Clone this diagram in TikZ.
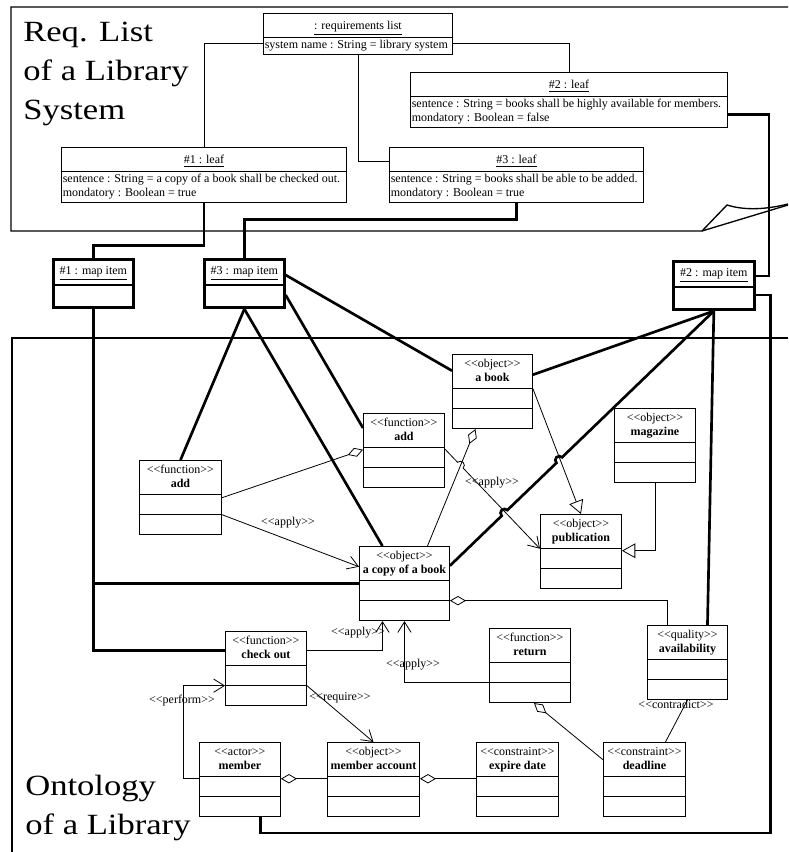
\documentclass[tikz,border=0pt]{standalone}
\usepackage{fontspec}
\setmainfont{Liberation Serif}[Ligatures=TeXOff]
\newfontfamily\titlefont{Liberation Serif}[FakeStretch=1.18,Ligatures=TeXOff]
\usepackage{tikz}
\usetikzlibrary{shapes.multipart,arrows.meta,calc}
\newcommand\leafstrut{\rule[-4.5pt]{0pt}{15.75pt}}
\tikzset{
	every node/.style={font=\fontsize{9}{10.5}\selectfont},
	frame/.style={line width=1pt},
	title/.style={font=\titlefont\fontsize{22}{29}\selectfont,align=left,inner sep=0pt,anchor=north west},
	leafbox/.style={draw,line width=0.7pt,rectangle split,rectangle split parts=2,rectangle split part align={center,left},align=left,inner xsep=1pt,inner ysep=0.75pt,anchor=north west},
	mapbox/.style={draw,line width=2pt,rectangle split,rectangle split parts=2,rectangle split empty part height=9pt,inner xsep=1pt,inner ysep=3pt,minimum width=60pt,anchor=north west},
	conbox/.style={draw,line width=0.7pt,rectangle split,rectangle split parts=3,rectangle split empty part height=10.25pt,align=center,inner xsep=1pt,inner ysep=2pt,anchor=north west},
	thinline/.style={line width=0.6pt},
	thickline/.style={line width=2pt},
	agg/.style={thinline,{Diamond[open,length=12pt,width=7pt]}-},
	dep/.style={thinline,-{Straight Barb[length=8pt,width=10pt]}},
	gen/.style={thinline,-{Triangle[open,length=10pt,width=11pt]}},
	lbl/.style={inner sep=0pt}
}
\begin{document}
\begin{tikzpicture}[x=0.75pt,y=-0.75pt]
\useasboundingbox (0,0) rectangle (788,852);

\draw[frame] (788,7) -- (11,7) -- (11,231) -- (702,231) -- (727,205) .. controls (746,211) and (768,209) .. (788,204);
\draw[frame] (702,231) -- (788,205);
\draw[frame] (788,338) -- (12,338) -- (12,852);
\node[title] (reqtitle) at (23,22) {Req. List\\of a Library\\System};
\node[title] (ontotitle) at (25,775) {Ontology\\of a Library};

\node[leafbox,minimum width=141.75pt] (req) at (263,13) {\leafstrut\underline{: requirements list}\nodepart{two}\strut system name : String = library system};
\node[leafbox,minimum width=213.75pt] (leaf1) at (61,147) {\leafstrut\underline{\#1 : leaf}\nodepart{two}\strut sentence : String = a copy of a book shall be checked out.\\\strut mondatory : Boolean = true};
\node[leafbox,minimum width=237.75pt] (leaf2) at (410,72) {\leafstrut\underline{\#2 : leaf}\nodepart{two}\strut sentence : String = books shall be highly available for members.\\\strut mondatory : Boolean = false};
\node[leafbox,minimum width=190.5pt] (leaf3) at (389,147) {\leafstrut\underline{\#3 : leaf}\nodepart{two}\strut sentence : String = books shall be able to be added.\\\strut mondatory : Boolean = true};

\node[mapbox] (map1) at (52,258) {\strut\underline{\#1 : map item}};
\node[mapbox] (map3) at (203,258) {\strut\underline{\#3 : map item}};
\node[mapbox,minimum width=60.75pt] (map2) at (672,260) {\strut\underline{\#2 : map item}};

\node[conbox,minimum width=60pt] (abook) at (452,354) {\strut<<object>>\\\textbf{a book}\strut};
\node[conbox,minimum width=60.75pt] (addr) at (363,413) {\strut<<function>>\\\textbf{add}\strut};
\node[conbox,minimum width=61.5pt] (addl) at (139,460) {\strut<<function>>\\\textbf{add}\strut};
\node[conbox,minimum width=60.75pt] (magazine) at (614,408) {\strut<<object>>\\\textbf{magazine}\strut};
\node[conbox,minimum width=60.75pt] (publication) at (540,514) {\strut<<object>>\\\textbf{publication}\strut};
\node[conbox,minimum width=67.5pt] (copy) at (359,546) {\strut<<object>>\\\textbf{a copy of a book}\strut};
\node[conbox,minimum width=60.75pt] (checkout) at (225,631) {\strut<<function>>\\\textbf{check out}\strut};
\node[conbox,minimum width=60.75pt] (return) at (489,628) {\strut<<function>>\\\textbf{return}\strut};
\node[conbox,minimum width=60pt] (availability) at (647,625) {\strut<<quality>>\\\textbf{availability}\strut};
\node[conbox,minimum width=60.75pt] (member) at (199,742) {\strut<<actor>>\\\textbf{member}\strut};
\node[conbox,minimum width=69pt] (account) at (327,742) {\strut<<object>>\\\textbf{member account}\strut};
\node[conbox,minimum width=61.5pt] (expire) at (476,742) {\strut<<constraint>>\\\textbf{expire date}\strut};
\node[conbox,minimum width=61.5pt] (deadline) at (603,742) {\strut<<constraint>>\\\textbf{deadline}\strut};

\node[lbl] (apply1) at (288,523) {<<apply>>};
\node[lbl] (apply2) at (492,483) {<<apply>>};
\node[lbl] (apply3) at (358,633) {<<apply>>};
\node[lbl] (apply4) at (413,665) {<<apply>>};
\node[lbl] (require) at (340,698) {<<require>>};
\node[lbl] (perform) at (182,701) {<<perform>>};
\node[lbl] (contradict) at (676,704) {<<contradict>>};

\draw[thinline] ([yshift=-4.5pt]req.one split west) -| (leaf1.north);
\draw[thinline] ([yshift=-4.5pt]req.one split east) -| (leaf2.north);
\draw[thinline] (req.south) |- ([yshift=7.5pt]leaf3.one split west);

\draw[thickline] (leaf1.south) -- ++(0,43) -| (map1.north);
\draw[thickline] (leaf3.south) -- ++(0,17) -| (map3.north);
\draw[thickline] ([yshift=-13.5pt]leaf2.one split east) -- ++(41,0) |- ([yshift=8.25pt]map2.one split east);
\draw[thickline] ([yshift=-6pt]map2.one split east) -- ++(15,0) -- ++(0,538) -| ([xshift=15.4pt]member.south);

\coordinate (copyw) at ([yshift=-2.25pt]copy.one split west);
\coordinate (copye) at ([yshift=11.25pt]copy.one split east);
\draw[thickline] (map1.south) |- ([yshift=11.25pt]checkout.one split west);
\draw[thickline] (map1.south |- copyw) -- (copyw);
\draw[thickline] (map3.south) -- (addl.north);
\draw[thickline] (map3.south) -- ([xshift=-16.5pt]copy.north);
\draw[thickline] ([yshift=-7.5pt]map3.one split east) -- ([yshift=-11.25pt]addr.north west);
\draw[thickline] ([yshift=7.5pt]map3.one split east) -- ([yshift=13.5pt]abook.one split west);
\draw[thickline] (map2.south) -- ([yshift=10.5pt]abook.one split east);
\draw[thickline] (copye) -- ($(copye)!0.207!(map2.south)!3pt!(copye)$) arc[start angle=225,end angle=45,radius=3pt] -- ($(copye)!0.4145!(map2.south)!3pt!(copye)$) arc[start angle=225,end angle=45,radius=3pt] -- (map2.south);
\draw[thickline] (map2.south) -- ([xshift=15pt]availability.north);

\coordinate (addre) at ([yshift=-1pt]addr.one split east);
\draw[agg] ([yshift=-1.5pt]addr.one split west) -- ([yshift=-2.25pt]addl.one split east);
\draw[dep] (addl.two split east) -- ([yshift=10.5pt]copy.one split west);
\draw[agg] ([xshift=-12.75pt]abook.south) -- ([xshift=17.25pt]copy.north);
\draw[dep] (addre) -- ($(addre)!0.162!(publication.one split west)!3pt!(addre)$) arc[start angle=134,end angle=-46,radius=3pt] -- (publication.one split west);
\draw[gen] (abook.one split east) -- (publication.north);
\draw[gen] (magazine.south) |- ([yshift=-1.5pt]publication.one split east);
\draw[agg] (copy.two split east) -| ([xshift=-15pt]availability.north);
\draw[dep] ([yshift=11.25pt]checkout.one split east) -| ([xshift=-16.5pt]copy.south);
\draw[dep] (return.two split west) -| (copy.south);
\draw[dep] (checkout.two split east) -- (account.north);
\draw[dep] ([yshift=-1.5pt]member.one split west) -- ++(-16,0) |- (checkout.two split west);
\draw[agg] ([yshift=-1.5pt]member.one split east) -- ([yshift=-1.5pt]account.one split west);
\draw[agg] ([yshift=-1.5pt]account.one split east) -- ([yshift=-1.5pt]expire.one split west);
\draw[agg] ([xshift=3pt]return.south) -- ([yshift=12.75pt]deadline.one split west);
\draw[thinline] (availability.south) -- ([xshift=15.75pt]deadline.north);

\end{tikzpicture}
\end{document}
